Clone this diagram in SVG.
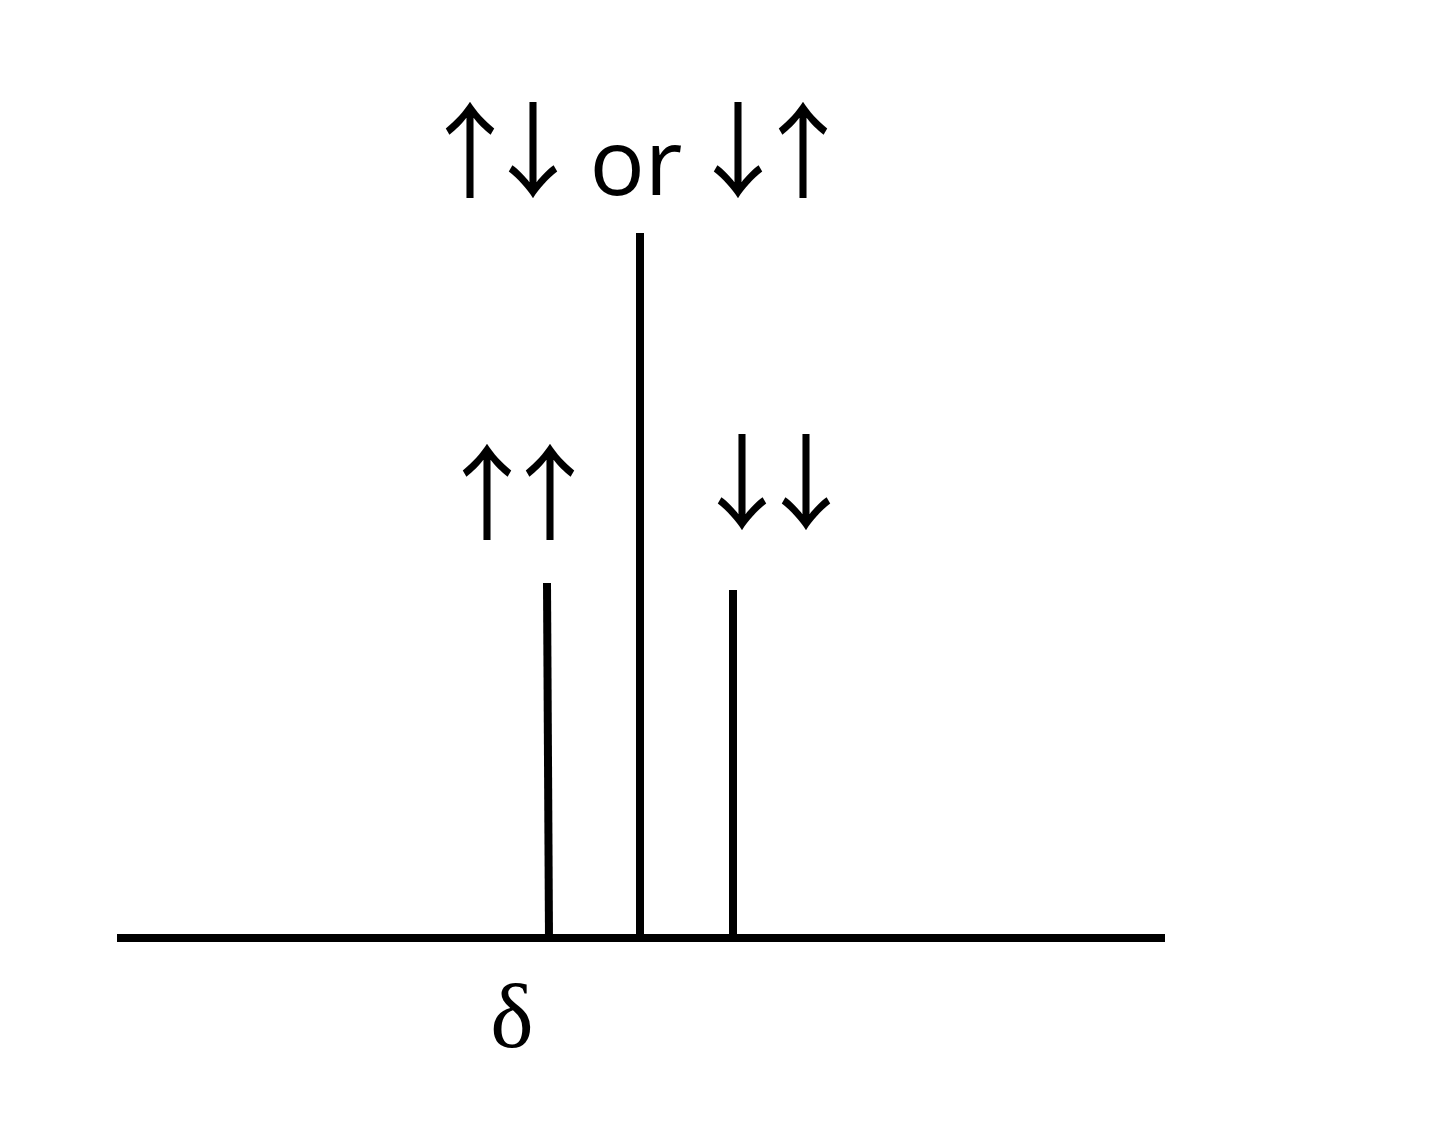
<svg xmlns="http://www.w3.org/2000/svg" width="1440" height="1137" viewBox="0 0 1440 1137">
<style>
.ln{stroke:#000;stroke-width:8;fill:none}
.ar{font-family:"Noto Sans CJK JP","DejaVu Sans",sans-serif;font-size:104px;fill:#000;text-anchor:middle}
.tx{font-family:"Open Sans",sans-serif;font-size:92px;fill:#000;text-anchor:middle}
.dl{font-family:"Liberation Serif",serif;font-size:92px;fill:#000;text-anchor:middle}
</style>
<rect width="1440" height="1137" fill="#fff"/>
<g id="axis"><line class="ln" x1="117" y1="938" x2="1165" y2="938"/></g>
<g id="peaks">
<line class="ln" x1="547" y1="583" x2="549" y2="938"/>
<line class="ln" x1="640" y1="233" x2="640" y2="938"/>
<line class="ln" x1="733" y1="590" x2="733" y2="938"/>
</g>
<g id="labels">
<text class="ar" x="470" y="190">↑</text>
<text class="ar" x="533" y="190">↓</text>
<text class="tx" x="636" y="195">or</text>
<text class="ar" x="738" y="190">↓</text>
<text class="ar" x="803" y="190">↑</text>
<text class="ar" x="487" y="532">↑</text>
<text class="ar" x="550" y="532">↑</text>
<text class="ar" x="742" y="522">↓</text>
<text class="ar" x="806" y="522">↓</text>
<text class="dl" x="512" y="1047">δ</text>
</g>
</svg>
